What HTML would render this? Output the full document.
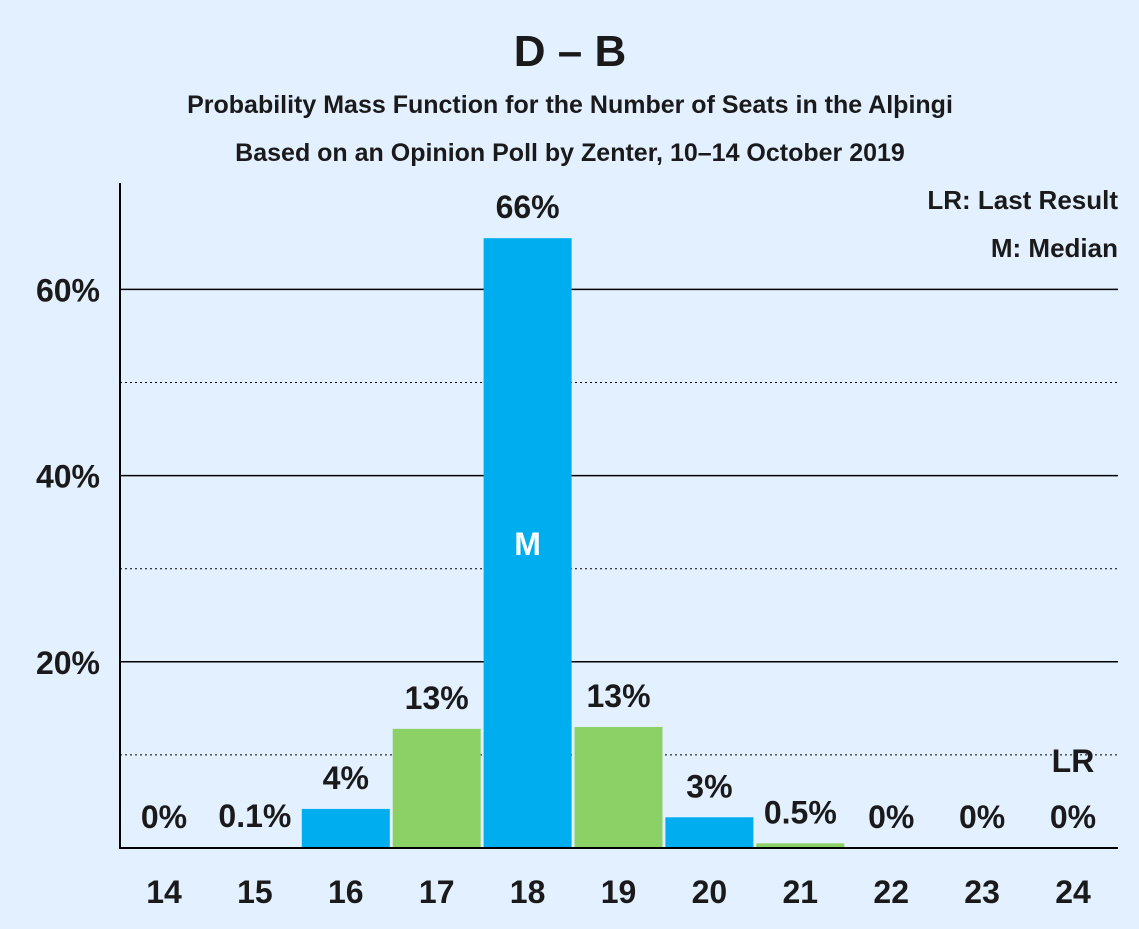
<!DOCTYPE html>
<html><head><meta charset="utf-8"><style>
body{margin:0;background:#E3F0FF;}
svg text{font-family:"Liberation Sans",sans-serif;font-weight:bold;fill:#1a1a1a;}
</style></head><body>
<svg width="1139" height="924" xmlns="http://www.w3.org/2000/svg">
<rect width="1139" height="924" fill="#E3F0FF"/>
<text x="570" y="66" font-size="44" text-anchor="middle">D – B</text>
<text x="570" y="113" font-size="25" text-anchor="middle">Probability Mass Function for the Number of Seats in the Alþingi</text>
<text x="570" y="161" font-size="25" text-anchor="middle">Based on an Opinion Poll by Zenter, 10–14 October 2019</text>
<text x="1134" y="115" font-size="10" text-anchor="middle" transform="rotate(-90 1134 60)" style="font-weight:normal">© 2020 Filip van Laenen</text>
<text x="1118" y="209" font-size="26" text-anchor="end">LR: Last Result</text>
<text x="1118" y="257" font-size="26" text-anchor="end">M: Median</text>
<g id="grid"></g><g id="bars"></g><g id="labels"></g>
<line x1="120" y1="183" x2="120" y2="849" stroke="#000" stroke-width="2"/>
<line x1="119" y1="848" x2="1118" y2="848" stroke="#000" stroke-width="2"/>
</svg>
<script>
const categories=[14,15,16,17,18,19,20,21,22,23,24];
const values=[0,0.1,4.2,12.8,65.5,13.0,3.3,0.5,0,0,0];
const valueLabels=["0%","0.1%","4%","13%","66%","13%","3%","0.5%","0%","0%","0%"];
const yTicks=[20,40,60];
const yMinor=[10,30,50];
const medianSeat=18, lastResultSeat=24;
const ns="http://www.w3.org/2000/svg";
const y=v=>848-v*9.31;
const x=i=>164+i*90.9;
function mk(t,a,p){const e=document.createElementNS(ns,t);for(const k in a)e.setAttribute(k,a[k]);document.getElementById(p).appendChild(e);return e;}
yTicks.forEach(t=>{
 const l=mk('line',{x1:120,x2:1118,y1:y(t),y2:y(t),stroke:'#000','stroke-width':1.5},'grid');
 
 
 const tx=mk('text',{x:100,y:y(t)+12,'font-size':32,'text-anchor':'end'},'grid');tx.textContent=t+'%';
 
 
});
yMinor.forEach(t=>{
 const l=mk('line',{x1:120,x2:1118,y1:y(t),y2:y(t),stroke:'#000','stroke-width':1,'stroke-dasharray':'2,3'},'grid');
 
 
});
categories.forEach((c,i)=>{
 const h=values[i]*9.31;
 if(h>0){const r=mk('rect',{x:x(i)-44,y:848-h,width:88,height:h,fill:i%2==0?'#00AEEF':'#8CD165'},'bars');
 
 }
 const tx=mk('text',{x:x(i),y:Math.min(y(values[i])-20,828),'font-size':32,'text-anchor':'middle'},'labels');tx.textContent=valueLabels[i];
 
 
 const xl=mk('text',{x:x(i),y:903,'font-size':32,'text-anchor':'middle'},'labels');xl.textContent=c;
 
 
 if(c===medianSeat){const m=mk('text',{x:x(i),y:y(values[i]/2)+12,'font-size':32,'text-anchor':'middle',style:'fill:#fff'},'labels');m.textContent='M';
 
 }
 if(c===lastResultSeat){const m=mk('text',{x:x(i),y:772,'font-size':32,'text-anchor':'middle'},'labels');m.textContent='LR';
 
 }
});
</script>
</body></html>
